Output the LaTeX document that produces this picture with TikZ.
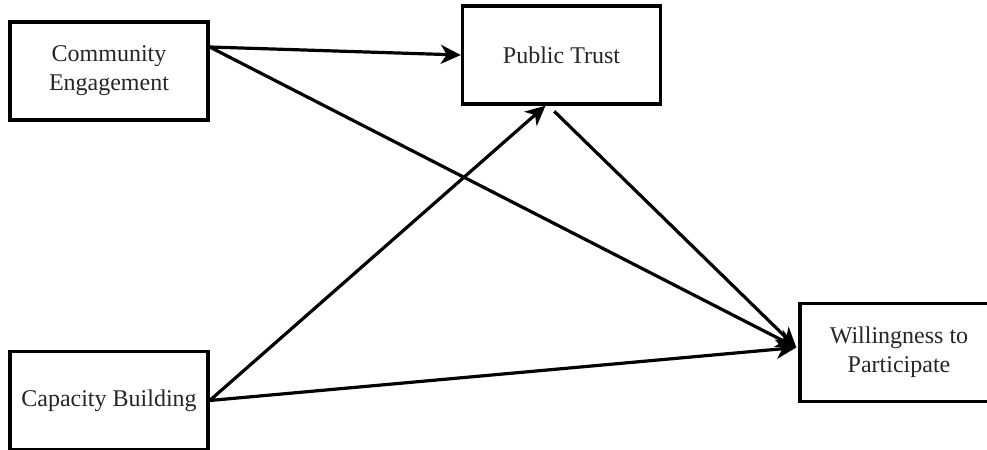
\documentclass[tikz,border=0pt]{standalone}
\usepackage{fontspec}
\setmainfont{Liberation Serif}
\usetikzlibrary{arrows.meta}
\tikzset{
	kasten/.style={draw, line width=1.7pt, minimum width=99pt, minimum height=49pt,
		align=center, inner sep=0pt, text=black!85, font=\fontsize{12}{14.5}\selectfont},
	pfeil/.style={line width=1.6pt, -{Stealth[length=10pt,width=9.5pt,inset=3pt]}}
}
\begin{document}
\begin{tikzpicture}[x=0.5pt,y=-0.5pt]
	\useasboundingbox (0,0) rectangle (987,450);
	% Kaesten
	\node[kasten] (ce) at (109,71) {Community\\Engagement};
	\node[kasten] (pt) at (561.5,55) {Public Trust};
	\node[kasten] (cb) at (109,400.5) {Capacity Building};
	\node[kasten] (wp) at (899,352.5) {Willingness to\\Participate};
	% Pfeile
	\draw[pfeil] ([yshift=12pt]ce.east) -- (pt.west);
	\draw[pfeil] ([yshift=12pt]ce.east) -- ([xshift=-1pt,yshift=2.5pt]wp.west);
	\draw[pfeil] (cb.east) -- ([xshift=-8pt]pt.south);
	\draw[pfeil,shorten <=4pt] ([xshift=-6.5pt]pt.south) -- ([xshift=-1pt,yshift=2.5pt]wp.west);
	\draw[pfeil] (cb.east) -- ([xshift=-1pt,yshift=2.5pt]wp.west);
\end{tikzpicture}
\end{document}
